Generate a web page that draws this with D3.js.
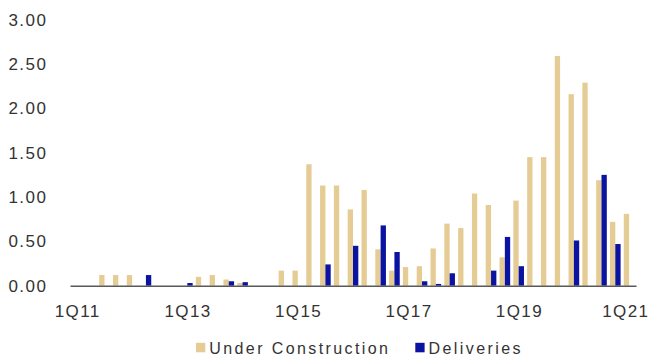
<!DOCTYPE html>
<html>
<head>
<meta charset="utf-8">
<script src="https://cdn.jsdelivr.net/npm/d3@7"></script>
<style>
  html, body { margin: 0; padding: 0; background: #fff; }
  svg { display: block; }
  text { font-family: "Liberation Sans", Arial, Helvetica, sans-serif; fill: #333; }
</style>
</head>
<body>
<svg id="chart" width="650" height="356"></svg>
<script>
// ---- data ----
const quarters = [];
for (let y = 11; y <= 21; y++) {
  for (let q = 1; q <= 4; q++) {
    if (y === 21 && q > 1) break;
    quarters.push(q + "Q" + y);
  }
}
const underConstruction = [
  0, 0, 0.12, 0.12, 0.12, 0, 0, 0,
  0, 0.10, 0.12, 0.07, 0.03, 0, 0, 0.17,
  0.17, 1.37, 1.13, 1.13, 0.86, 1.08, 0.41, 0.17,
  0.21, 0.22, 0.42, 0.70, 0.65, 1.04, 0.91, 0.32,
  0.96, 1.45, 1.45, 2.59, 2.16, 2.29, 1.19, 0.72,
  0.81
];
const deliveries = [
  0, 0, 0, 0, 0, 0.12, 0, 0,
  0.03, 0, 0, 0.05, 0.04, 0, 0, 0,
  0, 0, 0.24, 0, 0.45, 0, 0.68, 0.38,
  0, 0.05, 0.02, 0.14, 0, 0, 0.17, 0.55,
  0.22, 0, 0, 0, 0.51, 0, 1.25, 0.47,
  0
];
const seriesNames = ["Under Construction", "Deliveries"];
const seriesColors = ["#E5CC95", "#0A14A0"];
const yTicks = [0, 0.5, 1, 1.5, 2, 2.5, 3];
const xTickLabels = ["1Q11", "1Q13", "1Q15", "1Q17", "1Q19", "1Q21"];

// ---- layout ----
const svg = d3.select("#chart");
const x0 = d3.scaleBand().domain(quarters).range([70, 636]).padding(0);
const groupW = x0.bandwidth() * 0.77;
const x1 = d3.scaleBand().domain(seriesNames).range([0, groupW]).padding(0);
const y = d3.scaleLinear().domain([0, 3]).range([285.7, 19.7]);

const table = quarters.map((q, i) => ({ q, values: [underConstruction[i], deliveries[i]] }));

// bars
const groups = svg.append("g").selectAll("g").data(table).join("g")
  .attr("transform", d => `translate(${x0(d.q) + (x0.bandwidth() - groupW) / 2},0)`);
groups.selectAll("rect").data(d => d.values.map((v, k) => ({ v, k })))
  .join("rect")
  .filter(d => d.v > 0)
  .attr("x", d => x1(seriesNames[d.k]))
  .attr("width", x1.bandwidth())
  .attr("y", d => y(d.v))
  .attr("height", d => y(0) - y(d.v))
  .attr("fill", d => seriesColors[d.k]);

// y axis labels
const yAxis = d3.axisLeft(y).tickValues(yTicks).tickFormat(d3.format(".2f")).tickSize(0).tickPadding(0);
const yg = svg.append("g").attr("transform", "translate(47.5,0)").call(yAxis);
yg.select(".domain").remove();
yg.selectAll("text")
  .style("font-size", "17px").style("letter-spacing", "1.5px")
  .attr("fill", "#333")
  .attr("font-family", null);

// x axis
const xAxis = d3.axisBottom(x0).tickValues(xTickLabels).tickSize(0).tickPadding(0);
const xg = svg.append("g").attr("transform", `translate(0,${y(0)})`).call(xAxis);
xg.select(".domain").attr("stroke", "#595959").attr("stroke-width", 1.6);
xg.selectAll("text")
  .attr("dy", null)
  .attr("y", 31)
  .attr("dx", 0.75)
  .style("font-size", "17px").style("letter-spacing", "1.4px")
  .attr("fill", "#333")
  .attr("font-family", null);
// keep the last label inside the frame
xg.selectAll(".tick").filter(d => d === xTickLabels[xTickLabels.length - 1])
  .select("text").attr("text-anchor", "end").attr("dx", 648 - x0(xTickLabels[xTickLabels.length - 1]) - x0.bandwidth() / 2 + 1.4);

// legend
const legendX = [196, 415.3];
const lg = svg.append("g");
seriesNames.forEach((name, i) => {
  lg.append("rect").attr("x", legendX[i]).attr("y", 342.8).attr("width", 9.3).attr("height", 9.5)
    .attr("fill", seriesColors[i]);
  lg.append("text").attr("x", legendX[i] + 13.3).attr("y", 354.3)
    .style("font-size", "16px").style("letter-spacing", "2.4px")
    .text(name);
});
</script>
</body>
</html>
